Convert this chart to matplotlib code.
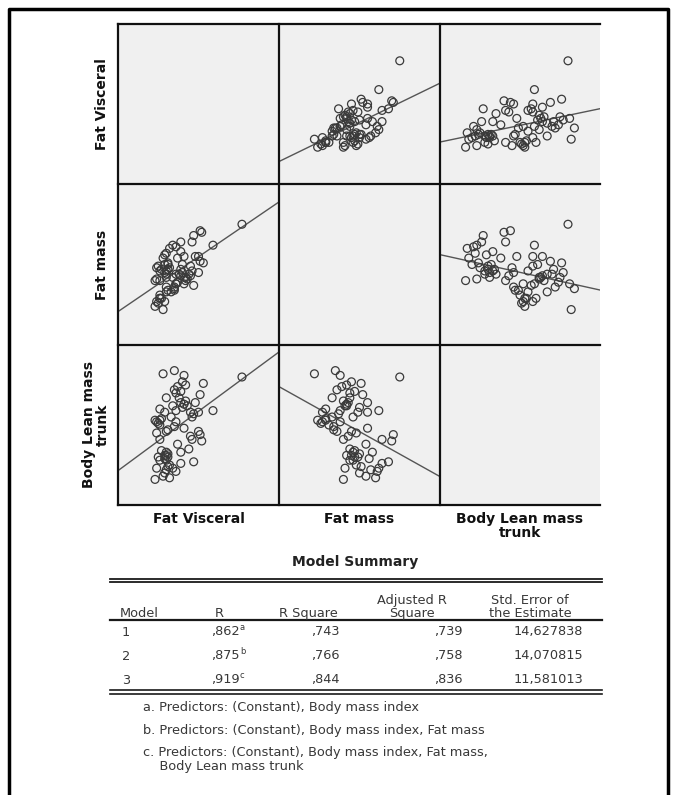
import numpy as np
import matplotlib
matplotlib.use("Agg")
import matplotlib.pyplot as plt
from matplotlib.lines import Line2D

# ---------------- data (relative units, 0-100) ----------------
var_names = ["Fat Visceral", "Fat mass", "Body Lean mass\ntrunk"]

body_lean_trunk = [84, 82, 81, 80, 77, 76,
                   75, 74, 72, 71, 69, 67, 67, 70,
                   65, 64, 62, 61, 60, 58, 58, 58, 59, 59, 63, 62, 64, 57,
                   55, 55, 54, 53, 51, 52, 52, 50, 53,
                   44, 40, 41, 48, 47, 46, 43, 41, 45, 46, 49,
                   38, 34, 33, 32, 31, 30, 29, 31, 30, 33, 35,
                   27, 26, 28, 24, 23, 22, 21, 23, 18, 17, 16, 25, 20, 28]
fat_visceral = [35, 28, 41, 77, 40, 53,
                42, 37, 35, 39, 51, 38, 30, 36,
                42, 48, 34, 40, 26, 45, 50, 29, 59, 36, 41, 43, 39, 47,
                46, 33, 27, 23, 25, 36, 24, 26, 26,
                51, 52, 46, 41, 31, 50, 45, 26, 24, 30, 35,
                37, 27, 39, 31, 30, 25, 29, 29, 31, 30, 44,
                47, 39, 26, 31, 24, 30, 36, 34, 28, 32, 23, 32, 29, 30]
fat_mass = [35, 22, 38, 75, 45, 51,
            42, 39, 36, 47, 52, 44, 33, 44,
            40, 55, 42, 50, 29, 49, 55, 27, 62, 38, 42, 41, 43, 37,
            46, 33, 29, 24, 26, 38, 27, 31, 29,
            71, 70, 64, 55, 34, 45, 43, 40, 48, 36, 34,
            54, 47, 58, 50, 42, 49, 56, 45, 47, 46, 44,
            68, 64, 46, 51, 41, 57, 61, 62, 54, 60, 40, 48, 50, 44]

variables = [np.array(fat_visceral, float), np.array(fat_mass, float),
             np.array(body_lean_trunk, float)]

table_title = "Model Summary"
table_header = ["Model", "R", "R Square", "Adjusted R\nSquare", "Std. Error of\nthe Estimate"]
models = ["1", "2", "3"]
r_values = [",862", ",875", ",919"]
r_marks = ["a", "b", "c"]
r_square = [",743", ",766", ",844"]
adj_r_square = [",739", ",758", ",836"]
std_error = ["14,627838", "14,070815", "11,581013"]
footnotes = ["a. Predictors: (Constant), Body mass index",
             "b. Predictors: (Constant), Body mass index, Fat mass",
             "c. Predictors: (Constant), Body mass index, Fat mass,\n    Body Lean mass trunk"]

# ---------------- layout ----------------
W, H = 678, 795
fig = plt.figure(figsize=(W / 100, H / 100), dpi=100)
fig.patch.set_facecolor("white")


def fx(x):
    return x / W


def fy(y):
    return 1 - y / H


xe = [118, 279, 440, 600]
ye = [24, 184, 345, 505]
cell_bg = "#f0f0f0"
pt_color = "#3a3a3a"
line_color = "#555555"

for r in range(3):
    for c in range(3):
        ax = fig.add_axes([fx(xe[c]), fy(ye[r + 1]), (xe[c + 1] - xe[c]) / W,
                           (ye[r + 1] - ye[r]) / H])
        ax.set_facecolor(cell_bg)
        ax.set_xlim(0, 100)
        ax.set_ylim(0, 100)
        ax.set_xticks([])
        ax.set_yticks([])
        for s in ax.spines.values():
            s.set_visible(False)
        if r == c:
            continue
        xv = variables[c]
        yv = variables[r]
        ax.scatter(xv, yv, s=32, facecolors="none", edgecolors=pt_color,
                   linewidths=0.9, zorder=3)
        b1, b0 = np.polyfit(xv, yv, 1)
        xs = np.array([0.0, 100.0])
        ax.plot(xs, b0 + b1 * xs, color=line_color, lw=1.0, zorder=2)

# grid lines
for y in ye:
    fig.add_artist(Line2D([fx(xe[0]), fx(xe[-1])], [fy(y), fy(y)],
                          color="#111111", lw=1.6, transform=fig.transFigure))
for x in xe[:-1]:
    fig.add_artist(Line2D([fx(x), fx(x)], [fy(ye[0]), fy(ye[-1])],
                          color="#111111", lw=1.6, transform=fig.transFigure))

# outer frame
fig.add_artist(Line2D([fx(9), fx(9), fx(668), fx(668)], [-0.02, fy(9), fy(9), -0.02],
                      color="black", lw=2.5, transform=fig.transFigure))

# variable labels
row_label_x = [102, 102, 96]
for r in range(3):
    yc = (ye[r] + ye[r + 1]) / 2
    fig.text(fx(row_label_x[r]), fy(yc), var_names[r], rotation=90, ha="center",
             va="center", fontsize=10, fontweight="bold", color="#111111",
             linespacing=1.0)
for c in range(3):
    xc = (xe[c] + xe[c + 1]) / 2
    fig.text(fx(xc), fy(512), var_names[c], ha="center", va="top", fontsize=10,
             fontweight="bold", color="#111111", linespacing=1.0)

# table
fig.text(fx(355), fy(562), table_title, ha="center", va="center", fontsize=10,
         fontweight="bold", color="#222222")
tl, tr = 110, 602
tc = "#383838"
fs = 9.3
for yy, lw in [(579, 1.3), (582, 1.3), (620, 1.6), (690, 1.2), (693.5, 1.2)]:
    fig.add_artist(Line2D([fx(tl), fx(tr)], [fy(yy), fy(yy)], color="#1a1a1a", lw=lw,
                          transform=fig.transFigure))

hdr_y = 617
fig.text(fx(120), fy(hdr_y), table_header[0], ha="left", va="baseline", fontsize=fs, color=tc)
fig.text(fx(219), fy(hdr_y), table_header[1], ha="center", va="baseline", fontsize=fs, color=tc)
fig.text(fx(308), fy(hdr_y), table_header[2], ha="center", va="baseline", fontsize=fs, color=tc)
fig.text(fx(412), fy(hdr_y), table_header[3], ha="center", va="baseline", fontsize=fs,
         color=tc, linespacing=1.0)
fig.text(fx(530), fy(hdr_y), table_header[4], ha="center", va="baseline", fontsize=fs,
         color=tc, linespacing=1.0)

row_y = [632, 656, 680]
for i in range(3):
    y = fy(row_y[i])
    fig.text(fx(122), y, models[i], ha="left", va="center", fontsize=fs, color=tc)
    fig.text(fx(240), y, r_values[i], ha="right", va="center", fontsize=fs, color=tc)
    fig.text(fx(240), fy(row_y[i] - 5), r_marks[i], ha="left", va="center",
             fontsize=6, color=tc)
    fig.text(fx(340), y, r_square[i], ha="right", va="center", fontsize=fs, color=tc)
    fig.text(fx(463), y, adj_r_square[i], ha="right", va="center", fontsize=fs, color=tc)
    fig.text(fx(583), y, std_error[i], ha="right", va="center", fontsize=fs, color=tc)

foot_y = [708, 731, 753]
for i in range(3):
    fig.text(fx(143), fy(foot_y[i] - 7), footnotes[i], ha="left", va="top",
             fontsize=fs, color=tc, linespacing=1.1)

fig.savefig("out.png", dpi=100, facecolor="white")
